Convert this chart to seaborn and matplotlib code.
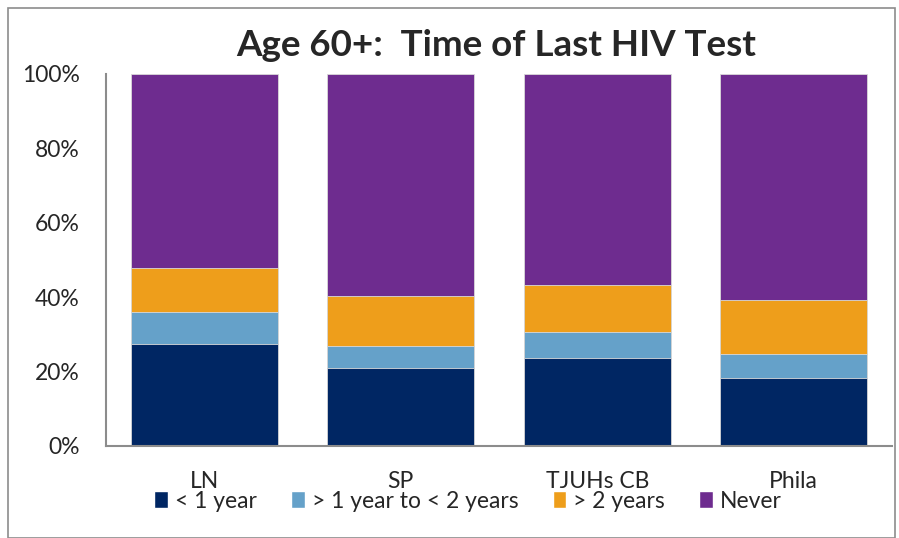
import pandas as pd
import matplotlib.pyplot as plt
import seaborn as sns
from matplotlib.patches import Rectangle, Patch

# Datos del gráfico (porcentajes)
sites = ['LN', 'SP', 'TJUHs CB', 'Phila']
lt_1yr = [27.4, 21.0, 23.7, 18.3]
yr1_to_2 = [8.6, 5.9, 6.9, 6.4]
gt_2yr = [11.8, 13.4, 12.7, 14.5]
never = [52.2, 59.7, 56.7, 60.8]

labels = ['< 1 year', '> 1 year to < 2 years', '> 2 years', 'Never']
colors = ['#002663', '#65A1C9', '#EE9E1B', '#6E2C8F']

df = pd.DataFrame({'Site': sites, labels[0]: lt_1yr, labels[1]: yr1_to_2,
                   labels[2]: gt_2yr, labels[3]: never})
cum = df[labels].cumsum(axis=1)
cum['Site'] = df['Site']

sns.set_style('white')
plt.rcParams['font.family'] = ['Lato', 'DejaVu Sans']

fig = plt.figure(figsize=(8.99, 5.38), dpi=100)
ax = fig.add_axes([106 / 899, 1 - 446 / 538, 786 / 899, 372 / 538])

# Barras apiladas: dibujar del total acumulado hacia abajo
for lab, col in reversed(list(zip(labels, colors))):
    sns.barplot(x='Site', y=lab, data=cum, color=col, width=0.75,
                edgecolor='#d9d9d9', linewidth=0.6, ax=ax, saturation=1)

ax.set_ylim(0, 100)
ax.set_xlim(-0.5, 3.5)
ax.set_yticks([0, 20, 40, 60, 80, 100])
ax.set_yticklabels(['0%', '20%', '40%', '60%', '80%', '100%'], fontsize=16.5)
ax.tick_params(axis='y', length=0, pad=19)
ax.tick_params(axis='x', which='major', length=0, pad=18, labelsize=16.5)
ax.set_xticks([-0.5, 0.5, 1.5, 2.5, 3.5], minor=True)
ax.tick_params(axis='x', which='minor', length=8, width=1.5, color='#8c8c8c', direction='out')
ax.set_xlabel('')
ax.set_ylabel('')
for side in ['top', 'right']:
    ax.spines[side].set_visible(False)
for side in ['left', 'bottom']:
    ax.spines[side].set_color('#8c8c8c')
    ax.spines[side].set_linewidth(1.5)

fig.text(496 / 899, 1 - 46 / 538, 'Age 60+:  Time of Last HIV Test',
         ha='center', va='center', fontsize=26.5, fontweight='bold')

handles = [Patch(facecolor=c, label=l) for l, c in zip(labels, colors)]
fig.legend(handles=handles, loc='center', bbox_to_anchor=(468 / 899, 1 - 501 / 538),
           ncol=4, frameon=False, fontsize=16.5, handlelength=0.6, handleheight=0.7,
           handletextpad=0.3, columnspacing=1.5)

fig.patches.append(Rectangle((8 / 899, 0), 887 / 899, 1 - 8 / 538, transform=fig.transFigure,
                             fill=False, edgecolor='#8c8c8c', linewidth=1.2))

fig.savefig('out.png', dpi=100)
